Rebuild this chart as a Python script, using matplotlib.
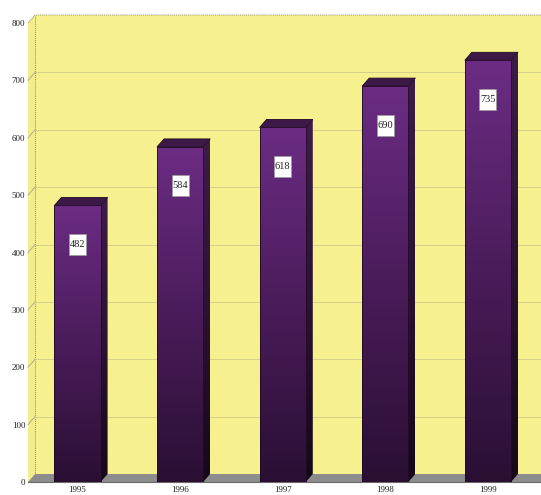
import matplotlib
matplotlib.use("Agg")
import matplotlib.pyplot as plt
import numpy as np
from matplotlib.patches import Polygon, Rectangle
from matplotlib.colors import LinearSegmentedColormap

years = ["1995", "1996", "1997", "1998", "1999"]
values = [482, 584, 618, 690, 735]
yticks = [0, 100, 200, 300, 400, 500, 600, 700, 800]

W, H = 541, 495
fig = plt.figure(figsize=(W / 100, H / 100), dpi=100)
fig.patch.set_facecolor("white")

# front plane of the axes in pixels
left_px, bottom_px, top_px = 28, 13, 472
ax = fig.add_axes([left_px / W, bottom_px / H, (W - left_px) / W, (top_px - bottom_px) / H])
xmin, xmax = -0.4825, -0.4825 + (W - left_px) / 102.6
ax.set_xlim(xmin, xmax)
ax.set_ylim(0, 800)
for s in ax.spines.values():
    s.set_visible(False)
ax.set_facecolor("none")

# depth offset of the 3D look, in data units
px_x = 102.6
px_y = (top_px - bottom_px) / 800
dx = 7 / px_x
dy = 8 / px_y

wall_col = "#f6f08e"
grid_col = "#d4d08c"

# back wall
ax.add_patch(Rectangle((xmin + dx, dy), xmax - xmin, 800, facecolor=wall_col,
                       edgecolor="none", zorder=1, clip_on=False))
# left side wall
ax.add_patch(Polygon([(xmin, 0), (xmin + dx, dy), (xmin + dx, 800 + dy), (xmin, 800)],
                     closed=True, facecolor="#f3ed8a", edgecolor="none", zorder=1, clip_on=False))
# top edge of the wall and back edge of the side wall
ax.plot([xmin, xmin + dx, xmax + 1], [800, 800 + dy, 800 + dy], color="#8a8a70",
        lw=0.7, ls=(0, (1, 1)), zorder=2, clip_on=False)
ax.plot([xmin + dx, xmin + dx], [dy, 800 + dy], color="#8a8a70", lw=0.7,
        ls=(0, (1, 1)), zorder=2, clip_on=False)

# grid lines on back wall and side wall
for v in yticks[1:-1]:
    ax.plot([xmin + dx, xmax + 1], [v + dy, v + dy], color=grid_col, lw=0.7, zorder=2,
            clip_on=False)
    ax.plot([xmin, xmin + dx], [v, v + dy], color="#b0ae8c", lw=0.7, zorder=2, clip_on=False)

# floor
ax.add_patch(Polygon([(xmin, 0), (xmin + dx, dy), (xmax + 1, dy), (xmax + 1, 0)],
                     closed=True, facecolor="#8c8c8c", edgecolor="none", zorder=3, clip_on=False))
ax.plot([xmin, xmax + 1], [0, 0], color="#6a6a6a", lw=0.8, zorder=3, clip_on=False)

front_cmap = LinearSegmentedColormap.from_list("front", ["#2a0f33", "#4a1c5a", "#6c2c84"])
side_cmap = LinearSegmentedColormap.from_list("side", ["#150818", "#2c1233", "#3e1c48"])
grad = np.linspace(0, 1, 256).reshape(-1, 1)

bw = 0.45
box_w, box_h = 17 / px_x, 21 / px_y
for i, (yr, v) in enumerate(zip(years, values)):
    x0, x1 = i - bw / 2, i + bw / 2
    # side face
    side = Polygon([(x1, 0), (x1 + dx, dy), (x1 + dx, v + dy), (x1, v)], closed=True,
                   facecolor="none", edgecolor="none", zorder=4)
    ax.add_patch(side)
    im = ax.imshow(grad, cmap=side_cmap, origin="lower", aspect="auto",
                   extent=(x1, x1 + dx, 0, v + dy), zorder=4, interpolation="bilinear")
    im.set_clip_path(side)
    # top face
    ax.add_patch(Polygon([(x0, v), (x0 + dx, v + dy), (x1 + dx, v + dy), (x1, v)], closed=True,
                         facecolor="#3c1946", edgecolor="#1e0a22", lw=0.6, zorder=5,
                         clip_on=False))
    # front face with vertical gradient
    front = Rectangle((x0, 0), bw, v, facecolor="none", edgecolor="none", zorder=6)
    ax.add_patch(front)
    im = ax.imshow(grad, cmap=front_cmap, origin="lower", aspect="auto",
                   extent=(x0, x1, 0, v), zorder=6, interpolation="bilinear")
    im.set_clip_path(front)
    ax.add_patch(Rectangle((x0, 0), bw, v, facecolor="none", edgecolor="#1e0a22",
                           lw=0.6, zorder=7))
    # value label in a white box
    ly = v - 68
    ax.add_patch(Rectangle((i - box_w / 2, ly - box_h / 2), box_w, box_h, facecolor="white",
                           edgecolor="#9a9a9a", lw=0.5, zorder=8))
    ax.text(i, ly, str(v), ha="center", va="center", fontsize=7.5,
            family="Liberation Serif", color="#222222", zorder=9)

ax.set_xlim(xmin, xmax)
ax.set_ylim(0, 800)

ax.set_xticks(range(len(years)))
ax.set_xticklabels(years, family="Liberation Serif", fontsize=6.5, color="#222222")
ax.set_yticks(yticks)
ax.set_yticklabels([str(t) for t in yticks], family="Liberation Serif", fontsize=6.5,
                   color="#222222")
ax.tick_params(axis="x", length=0, pad=3)
ax.tick_params(axis="y", length=0, pad=2)

fig.savefig("out.png", dpi=100, facecolor="white")
